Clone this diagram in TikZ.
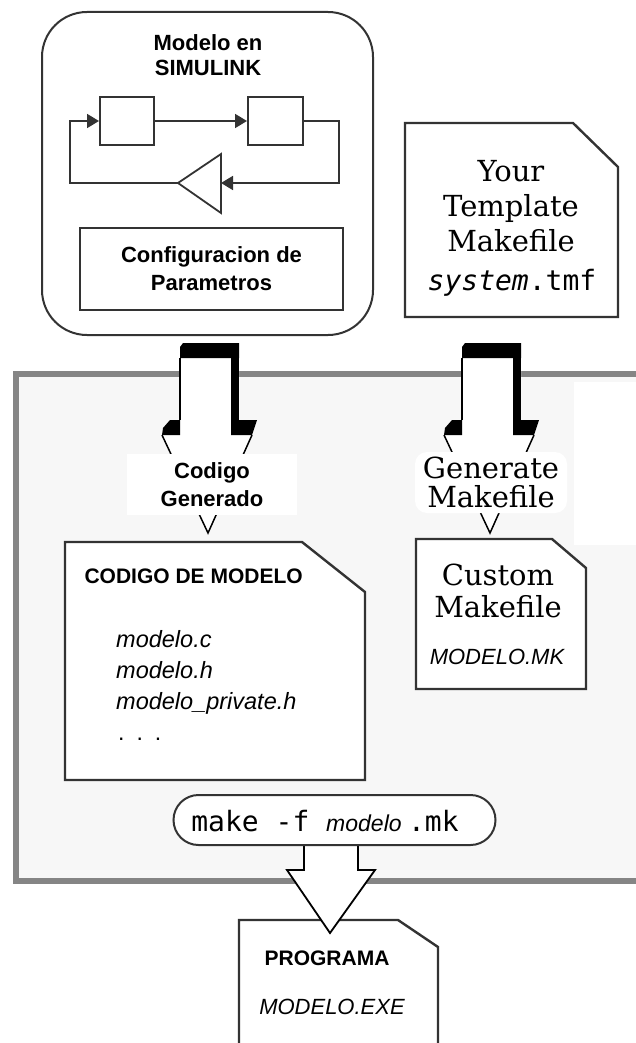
\documentclass[tikz,border=0pt]{standalone}
\usepackage{fontspec}
\usetikzlibrary{arrows.meta}
\newfontfamily\sansA{Liberation Sans}
\newfontfamily\serifA{DejaVu Serif}
\newfontfamily\monoA{DejaVu Sans Mono}
\newcommand\fsz[2]{\fontsize{#1pt}{#2pt}\selectfont}
\definecolor{framegray}{HTML}{858585}
\definecolor{panel}{HTML}{F7F7F7}
\definecolor{ink}{HTML}{333333}
\tikzset{
  frame/.style={line width=6pt, draw=framegray, fill=panel},
  roundbox/.style={draw=ink, line width=2pt, fill=white, rounded corners=45pt},
  block/.style={draw=ink, line width=2pt, fill=white, minimum width=54pt, minimum height=48pt, inner sep=0pt},
  sig/.style={line width=1.8pt, draw=ink, -{Triangle[length=12pt,width=14pt]}},
  wire/.style={line width=1.8pt, draw=ink},
  doc/.style={draw=ink, line width=2.4pt, fill=white, line join=miter},
  boldlbl/.style={font=\sansA\bfseries\fsz{22}{28}, align=center},
  seriflbl/.style={font=\serifA\fsz{29}{32}, align=center},
  filelbl/.style={font=\sansA\itshape\fsz{23.5}{27}, anchor=base west, inner sep=0pt},
  pill/.style={draw=ink, line width=2pt, fill=white, rounded corners=25pt, minimum width=322pt, minimum height=50pt},
  hollowarrow/.style={draw=black, line width=1.8pt, fill=white, line join=miter},
  blockarrow/.pic={
    \fill[white] (-29,0) -- (30,0) -- (30,77) -- (48,77) -- (43,92) -- (-1,190) -- (-47,92) -- (-40,77) -- (-29,77) -- cycle;
    \fill[black] (-26,0) -- (30,0) -- (30,15) -- (-29,15) -- (-29,4) -- cycle;
    \fill[black] (22,15) -- (30,15) -- (30,77) -- (22,77) -- cycle;
    \draw[black, line width=2pt] (-29,15) -- (-29,77);
    \fill[black] (-39,77) -- (-29,77) -- (-29,92) -- (-47,92) -- (-46,85) -- cycle;
    \fill[black] (22,77) -- (48,77) -- (43,92) -- (22,92) -- cycle;
    \draw[black, line width=1.5pt] (-47,92) -- (-1,190) -- (43,92);
  }
}
\begin{document}
\begin{tikzpicture}[x=1pt,y=-1pt]
\useasboundingbox (0,0) rectangle (636,1043);
\clip (0,0) rectangle (636,1043);
\fill[white] (0,0) rectangle (636,1043);

% large grey panel
\draw[frame] (16,373.5) rectangle (720,880.5);
\fill[white] (574,382) rectangle (640,545);

% Simulink model box
\node[roundbox, minimum width=331pt, minimum height=323pt] (sim) at (207.5,173.5) {};
\node[boldlbl, font=\sansA\bfseries\fsz{22}{25}] (simtitle) at (208,55) {Modelo en\\SIMULINK};
\node[block] (b1) at (127,121) {};
\node[block, minimum width=55pt] (b2) at (275.5,121) {};
\coordinate (gtip) at (178,183);
\coordinate (gin) at (221,183);
\draw[wire, fill=white, line join=miter] (gtip) -- (221,154) -- (221,213) -- cycle;
\draw[sig] (b1.east) -- (b2.west);
\draw[sig] (b2.east) -- ++(35,0) |- (gin);
\draw[sig] (gtip) -- (70,183) |- (b1.west);
\node[draw=ink, line width=2pt, fill=white, minimum width=263pt, minimum height=82pt, boldlbl] (cfg) at (211.5,269) {Configuracion de\\Parametros};

% Template makefile document
\draw[doc] (405,123) -- (573,123) -- (618,167) -- (618,317) -- (405,317) -- cycle;
\node[seriflbl, font=\serifA\fsz{29}{35}] (tmpl) at (511,206) {Your\\Template\\Makefile};
\node[inner sep=0pt] (tmf) at (512,283) {\monoA\fsz{28}{30}\itshape system\upshape .tmf};

% block arrows
\pic at (209,343) {blockarrow};
\pic at (491,343) {blockarrow};

% labels on the arrows
\node[fill=white, minimum width=170pt, minimum height=61pt, boldlbl] (cg) at (212,484.5) {Codigo\\Generado};
\node[fill=white, rounded corners=12pt, minimum width=152pt, minimum height=61pt, seriflbl, font=\serifA\fsz{29}{29}] (gm) at (491,482.5) {Generate\\Makefile};

% model code document
\draw[doc] (65,542) -- (302,542) -- (365,592) -- (365,780) -- (65,780) -- cycle;
\node[anchor=west, font=\sansA\bfseries\fsz{21}{25}] (cdm) at (81,576) {CODIGO DE MODELO};
\node[filelbl] (f1) at (116,647) {modelo.c};
\node[filelbl] (f2) at (116,678) {modelo.h};
\node[filelbl] (f3) at (116,709) {modelo\_private.h};
\node[filelbl, font=\sansA\fsz{23}{27}] (f4) at (118,740) {.\hspace{12pt}.\hspace{12pt}.};

% custom makefile document
\draw[doc] (416,539) -- (552,539) -- (586,568) -- (586,689) -- (416,689) -- cycle;
\node[seriflbl, font=\serifA\fsz{29}{32}] (cm) at (498,591) {Custom\\Makefile};
\node[font=\sansA\itshape\fsz{22}{26}] (mk) at (497,657) {MODELO.MK};

% program document
\draw[doc] (239,920) -- (398,920) -- (438,947) -- (438,1060) -- (239,1060) -- cycle;
\node[font=\sansA\bfseries\fsz{21}{25}] (prg) at (327,958) {PROGRAMA};
\node[font=\sansA\itshape\fsz{22}{26}] (exe) at (332,1007) {MODELO.EXE};

% make command and output arrow
\coordinate (shaftL) at (304,845);
\coordinate (shaftR) at (358,845);
\coordinate (outtip) at (330,933);
\draw[hollowarrow] (shaftL) -- (304,870) -- (287,870) -- (outtip) -- (375,870) -- (358,870) -- (shaftR);
\node[pill] (make) at (334.5,820) {};
\node[inner sep=0pt] (maketext) at (325,821) {\monoA\fsz{28}{30}make -f \sansA\itshape\fsz{23}{26}modelo \upshape\monoA\fsz{28}{30}.mk};
\end{tikzpicture}
\end{document}
